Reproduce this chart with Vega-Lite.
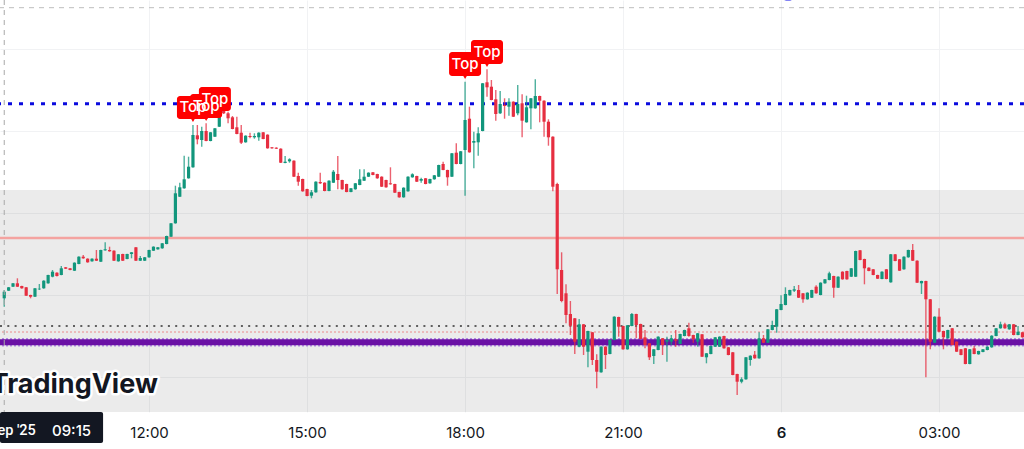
{
  "$schema": "https://vega.github.io/schema/vega-lite/v6.json",
  "width": 1024,
  "height": 412,
  "autosize": "none",
  "padding": {"left": 0, "top": 0, "right": 0, "bottom": 37},
  "background": "#ffffff",
  "config": {"view": {"stroke": null}},
  "datasets": {
    "candles": [
      {"t":"2025-09-05T09:15","o":113.7,"h":122,"l":105.3,"c":120.3},
      {"t":"2025-09-05T09:20","o":121.3,"h":125,"l":121,"c":124.7},
      {"t":"2025-09-05T09:25","o":125.3,"h":129,"l":125,"c":128.7},
      {"t":"2025-09-05T09:30","o":128.7,"h":133.7,"l":125,"c":125.3},
      {"t":"2025-09-05T09:35","o":126,"h":126.3,"l":123.3,"c":123.7},
      {"t":"2025-09-05T09:40","o":124.7,"h":125,"l":116,"c":116.3},
      {"t":"2025-09-05T09:45","o":117,"h":117.3,"l":113.7,"c":115.3},
      {"t":"2025-09-05T09:50","o":115.3,"h":124,"l":115,"c":123.7},
      {"t":"2025-09-05T09:55","o":122.7,"h":128,"l":122,"c":123.3},
      {"t":"2025-09-05T10:00","o":123.7,"h":131.7,"l":123.3,"c":131.3},
      {"t":"2025-09-05T10:05","o":128.7,"h":137.3,"l":128.3,"c":137},
      {"t":"2025-09-05T10:10","o":135.3,"h":142,"l":134.7,"c":140.3},
      {"t":"2025-09-05T10:15","o":139.3,"h":139.7,"l":135.5,"c":136},
      {"t":"2025-09-05T10:20","o":137,"h":146,"l":136.7,"c":143.7},
      {"t":"2025-09-05T10:25","o":144.7,"h":145,"l":143,"c":143.3},
      {"t":"2025-09-05T10:30","o":143.7,"h":144,"l":141.7,"c":142},
      {"t":"2025-09-05T10:35","o":141.3,"h":149.7,"l":141,"c":149.3},
      {"t":"2025-09-05T10:40","o":148,"h":155.7,"l":147.7,"c":155.3},
      {"t":"2025-09-05T10:45","o":155.3,"h":157,"l":153.3,"c":153.7},
      {"t":"2025-09-05T10:50","o":153.3,"h":153.7,"l":149.3,"c":149.7},
      {"t":"2025-09-05T10:55","o":150.7,"h":153.7,"l":150.3,"c":153.3},
      {"t":"2025-09-05T11:00","o":153.3,"h":162,"l":151,"c":151.3},
      {"t":"2025-09-05T11:05","o":150.3,"h":162.3,"l":150,"c":162},
      {"t":"2025-09-05T11:10","o":161.7,"h":169.7,"l":161.3,"c":162.7},
      {"t":"2025-09-05T11:15","o":162,"h":165.3,"l":160.3,"c":160.7},
      {"t":"2025-09-05T11:20","o":161.3,"h":161.7,"l":151,"c":151.3},
      {"t":"2025-09-05T11:25","o":150.7,"h":158,"l":150.3,"c":157.7},
      {"t":"2025-09-05T11:30","o":158,"h":158.3,"l":151,"c":151.3},
      {"t":"2025-09-05T11:35","o":153,"h":158.3,"l":152.7,"c":158},
      {"t":"2025-09-05T11:40","o":158,"h":160,"l":153.7,"c":159.7},
      {"t":"2025-09-05T11:45","o":164.7,"h":165,"l":151,"c":151.3},
      {"t":"2025-09-05T11:50","o":151.3,"h":156,"l":151,"c":154},
      {"t":"2025-09-05T11:55","o":151.3,"h":155,"l":151,"c":154.7},
      {"t":"2025-09-05T12:00","o":154.7,"h":162.3,"l":154.3,"c":162},
      {"t":"2025-09-05T12:05","o":161.3,"h":165.7,"l":161,"c":165.3},
      {"t":"2025-09-05T12:10","o":162.7,"h":165,"l":162.3,"c":164.7},
      {"t":"2025-09-05T12:15","o":163.7,"h":169,"l":163.3,"c":168.7},
      {"t":"2025-09-05T12:20","o":168,"h":176.3,"l":167.7,"c":176},
      {"t":"2025-09-05T12:25","o":175.3,"h":189,"l":175,"c":188.7},
      {"t":"2025-09-05T12:30","o":188.7,"h":226.3,"l":188.3,"c":218.7},
      {"t":"2025-09-05T12:35","o":215.3,"h":229.3,"l":215,"c":224.7},
      {"t":"2025-09-05T12:40","o":223.7,"h":256.3,"l":223.3,"c":232.7},
      {"t":"2025-09-05T12:45","o":233.7,"h":255.3,"l":233.3,"c":245.3},
      {"t":"2025-09-05T12:50","o":244.7,"h":287,"l":244.3,"c":277},
      {"t":"2025-09-05T12:55","o":276.7,"h":287,"l":267.7,"c":272.7},
      {"t":"2025-09-05T13:00","o":272,"h":285.3,"l":265.3,"c":281},
      {"t":"2025-09-05T13:05","o":281,"h":288.7,"l":270.7,"c":271},
      {"t":"2025-09-05T13:10","o":271,"h":280,"l":270.7,"c":279.7},
      {"t":"2025-09-05T13:15","o":275.3,"h":284,"l":275,"c":283.7},
      {"t":"2025-09-05T13:20","o":285.3,"h":302,"l":285,"c":300.3},
      {"t":"2025-09-05T13:25","o":302,"h":303,"l":298,"c":298.7},
      {"t":"2025-09-05T13:30","o":298.7,"h":300.3,"l":288.7,"c":293.7},
      {"t":"2025-09-05T13:35","o":294.7,"h":296,"l":282.7,"c":283},
      {"t":"2025-09-05T13:40","o":284.7,"h":295.3,"l":277.7,"c":278},
      {"t":"2025-09-05T13:45","o":279.3,"h":287,"l":268,"c":269.3},
      {"t":"2025-09-05T13:50","o":269.7,"h":276.7,"l":269.3,"c":276.3},
      {"t":"2025-09-05T13:55","o":276,"h":279.3,"l":273.7,"c":275},
      {"t":"2025-09-05T14:00","o":274.7,"h":278.7,"l":273.3,"c":276},
      {"t":"2025-09-05T14:05","o":274.7,"h":279.7,"l":271.3,"c":279.3},
      {"t":"2025-09-05T14:10","o":279.7,"h":280,"l":272.7,"c":273},
      {"t":"2025-09-05T14:15","o":277.3,"h":277.7,"l":263.3,"c":263.7},
      {"t":"2025-09-05T14:20","o":264.7,"h":265,"l":263.3,"c":263.7},
      {"t":"2025-09-05T14:25","o":264.3,"h":264.7,"l":263,"c":263.3},
      {"t":"2025-09-05T14:30","o":263.3,"h":263.7,"l":249,"c":249.3},
      {"t":"2025-09-05T14:35","o":249,"h":256,"l":248.7,"c":250.3},
      {"t":"2025-09-05T14:40","o":250.7,"h":253.7,"l":249.3,"c":252.7},
      {"t":"2025-09-05T14:45","o":251.3,"h":251.7,"l":235,"c":235.3},
      {"t":"2025-09-05T14:50","o":236,"h":239.3,"l":226.3,"c":230.3},
      {"t":"2025-09-05T14:55","o":233,"h":233.3,"l":220.3,"c":220.7},
      {"t":"2025-09-05T15:00","o":223,"h":223.3,"l":215.7,"c":216},
      {"t":"2025-09-05T15:05","o":216.3,"h":222,"l":213.7,"c":219.7},
      {"t":"2025-09-05T15:10","o":219.7,"h":230.7,"l":219.3,"c":230.3},
      {"t":"2025-09-05T15:15","o":230,"h":239.3,"l":228,"c":228.7},
      {"t":"2025-09-05T15:20","o":229.3,"h":229.7,"l":220.7,"c":221},
      {"t":"2025-09-05T15:25","o":221,"h":231.7,"l":220.7,"c":231.3},
      {"t":"2025-09-05T15:30","o":229.3,"h":242,"l":229,"c":240.3},
      {"t":"2025-09-05T15:35","o":238,"h":256,"l":222.7,"c":232},
      {"t":"2025-09-05T15:40","o":232,"h":232.3,"l":222.3,"c":222.7},
      {"t":"2025-09-05T15:45","o":228,"h":228.3,"l":219.7,"c":220},
      {"t":"2025-09-05T15:50","o":220,"h":224,"l":219.7,"c":223.7},
      {"t":"2025-09-05T15:55","o":222.7,"h":229,"l":222.3,"c":228.7},
      {"t":"2025-09-05T16:00","o":227,"h":242.7,"l":226.7,"c":232.7},
      {"t":"2025-09-05T16:05","o":231.3,"h":242.7,"l":231,"c":235.3},
      {"t":"2025-09-05T16:10","o":235.3,"h":239.7,"l":235,"c":239.3},
      {"t":"2025-09-05T16:15","o":239.7,"h":240,"l":236.7,"c":237},
      {"t":"2025-09-05T16:20","o":238,"h":238.3,"l":233.3,"c":233.7},
      {"t":"2025-09-05T16:25","o":235.3,"h":235.7,"l":225,"c":225.3},
      {"t":"2025-09-05T16:30","o":232,"h":232.3,"l":224.3,"c":224.7},
      {"t":"2025-09-05T16:35","o":228.7,"h":244.7,"l":227.3,"c":227.7},
      {"t":"2025-09-05T16:40","o":228,"h":228.3,"l":219,"c":219.3},
      {"t":"2025-09-05T16:45","o":220,"h":220.3,"l":214.3,"c":214.7},
      {"t":"2025-09-05T16:50","o":214.7,"h":224.7,"l":214.3,"c":224.3},
      {"t":"2025-09-05T16:55","o":220.7,"h":235.7,"l":220.3,"c":235.3},
      {"t":"2025-09-05T17:00","o":234.7,"h":238.7,"l":234.3,"c":237.7},
      {"t":"2025-09-05T17:05","o":236,"h":236.3,"l":230,"c":230.3},
      {"t":"2025-09-05T17:10","o":231.3,"h":234.3,"l":229.3,"c":233},
      {"t":"2025-09-05T17:15","o":233.7,"h":234,"l":227.7,"c":228},
      {"t":"2025-09-05T17:20","o":228.7,"h":233.3,"l":228.3,"c":233},
      {"t":"2025-09-05T17:25","o":232.7,"h":237,"l":232.3,"c":236.7},
      {"t":"2025-09-05T17:30","o":235.3,"h":247.3,"l":235,"c":247},
      {"t":"2025-09-05T17:35","o":248,"h":250.3,"l":241.7,"c":242},
      {"t":"2025-09-05T17:40","o":242,"h":242.3,"l":226.3,"c":234.7},
      {"t":"2025-09-05T17:45","o":235.3,"h":259,"l":235,"c":258.7},
      {"t":"2025-09-05T17:50","o":259.3,"h":268.7,"l":247.7,"c":248},
      {"t":"2025-09-05T17:55","o":248,"h":261,"l":247.7,"c":260.7},
      {"t":"2025-09-05T18:00","o":262,"h":330.3,"l":216.3,"c":292},
      {"t":"2025-09-05T18:05","o":293.3,"h":305.3,"l":259.3,"c":259.7},
      {"t":"2025-09-05T18:10","o":269.3,"h":280.3,"l":243.7,"c":271},
      {"t":"2025-09-05T18:15","o":269.7,"h":284.7,"l":256.3,"c":278.7},
      {"t":"2025-09-05T18:20","o":281,"h":329,"l":280.7,"c":328.7},
      {"t":"2025-09-05T18:25","o":329.7,"h":342.7,"l":315.3,"c":324.7},
      {"t":"2025-09-05T18:30","o":325.3,"h":332,"l":311.7,"c":312},
      {"t":"2025-09-05T18:35","o":312.7,"h":322,"l":291.3,"c":298},
      {"t":"2025-09-05T18:40","o":298.7,"h":321,"l":298,"c":308},
      {"t":"2025-09-05T18:45","o":307,"h":313.7,"l":293.3,"c":306},
      {"t":"2025-09-05T18:50","o":305.3,"h":313.7,"l":296.3,"c":310.3},
      {"t":"2025-09-05T18:55","o":310.3,"h":310.7,"l":295,"c":295.3},
      {"t":"2025-09-05T19:00","o":298.7,"h":327,"l":296.7,"c":308},
      {"t":"2025-09-05T19:05","o":308.7,"h":317.7,"l":274.7,"c":291.3},
      {"t":"2025-09-05T19:10","o":289.7,"h":316.3,"l":289.3,"c":304.7},
      {"t":"2025-09-05T19:15","o":303.7,"h":314,"l":282.7,"c":313.7},
      {"t":"2025-09-05T19:20","o":303.7,"h":332.7,"l":303.3,"c":316},
      {"t":"2025-09-05T19:25","o":316,"h":316.3,"l":289.7,"c":311.3},
      {"t":"2025-09-05T19:30","o":311.3,"h":311.7,"l":275.3,"c":290.3},
      {"t":"2025-09-05T19:35","o":290.3,"h":292.7,"l":266.3,"c":274.7},
      {"t":"2025-09-05T19:40","o":275.3,"h":275.7,"l":220.7,"c":225.3},
      {"t":"2025-09-05T19:45","o":228,"h":229.3,"l":118,"c":142.7},
      {"t":"2025-09-05T19:50","o":142,"h":159.7,"l":109.7,"c":111},
      {"t":"2025-09-05T19:55","o":118.7,"h":127.7,"l":88.7,"c":97},
      {"t":"2025-09-05T20:00","o":98,"h":111,"l":77,"c":86.3},
      {"t":"2025-09-05T20:05","o":93.7,"h":94,"l":58,"c":70.3},
      {"t":"2025-09-05T20:10","o":65.3,"h":93,"l":64.7,"c":87.7},
      {"t":"2025-09-05T20:15","o":87.7,"h":88,"l":57,"c":65.3},
      {"t":"2025-09-05T20:20","o":60.3,"h":81.3,"l":44.7,"c":81},
      {"t":"2025-09-05T20:25","o":79.7,"h":80,"l":47,"c":52},
      {"t":"2025-09-05T20:30","o":52,"h":57.7,"l":23.7,"c":40.3},
      {"t":"2025-09-05T20:35","o":39.7,"h":65.7,"l":39.3,"c":65.3},
      {"t":"2025-09-05T20:40","o":65.3,"h":65.7,"l":43,"c":57},
      {"t":"2025-09-05T20:45","o":58,"h":72.3,"l":57.7,"c":72},
      {"t":"2025-09-05T20:50","o":72,"h":95.7,"l":71.7,"c":95.3},
      {"t":"2025-09-05T20:55","o":95,"h":95.3,"l":75.3,"c":85.3},
      {"t":"2025-09-05T21:00","o":86,"h":86.3,"l":62.3,"c":62.7},
      {"t":"2025-09-05T21:05","o":62.7,"h":87,"l":62.3,"c":86.7},
      {"t":"2025-09-05T21:10","o":86,"h":99,"l":85.7,"c":98},
      {"t":"2025-09-05T21:15","o":98,"h":98.3,"l":73.7,"c":87},
      {"t":"2025-09-05T21:20","o":88,"h":88.3,"l":72.7,"c":73},
      {"t":"2025-09-05T21:25","o":74.7,"h":82,"l":63.7,"c":67},
      {"t":"2025-09-05T21:30","o":68.7,"h":69,"l":52,"c":54.7},
      {"t":"2025-09-05T21:35","o":56,"h":63,"l":48,"c":62.7},
      {"t":"2025-09-05T21:40","o":62,"h":75.7,"l":61.7,"c":75.3},
      {"t":"2025-09-05T21:45","o":73.7,"h":74,"l":57,"c":67},
      {"t":"2025-09-05T21:50","o":70.3,"h":75.3,"l":50.3,"c":72},
      {"t":"2025-09-05T21:55","o":70.3,"h":77,"l":67,"c":73.7},
      {"t":"2025-09-05T22:00","o":72.7,"h":82,"l":65.3,"c":71.3},
      {"t":"2025-09-05T22:05","o":68,"h":78.3,"l":67.7,"c":78},
      {"t":"2025-09-05T22:10","o":76,"h":82.3,"l":75.7,"c":82},
      {"t":"2025-09-05T22:15","o":83.7,"h":89.3,"l":75.3,"c":76},
      {"t":"2025-09-05T22:20","o":77,"h":77.3,"l":69.3,"c":72.7},
      {"t":"2025-09-05T22:25","o":70.3,"h":79,"l":65.3,"c":78.7},
      {"t":"2025-09-05T22:30","o":77.7,"h":78,"l":55,"c":55.3},
      {"t":"2025-09-05T22:35","o":54.7,"h":59,"l":48.7,"c":58.7},
      {"t":"2025-09-05T22:40","o":58,"h":66.3,"l":57.7,"c":66},
      {"t":"2025-09-05T22:45","o":65.3,"h":75,"l":65,"c":74.7},
      {"t":"2025-09-05T22:50","o":65.3,"h":75.7,"l":65,"c":75.3},
      {"t":"2025-09-05T22:55","o":76,"h":76.3,"l":63.3,"c":63.7},
      {"t":"2025-09-05T23:00","o":64.7,"h":65,"l":56.7,"c":57},
      {"t":"2025-09-05T23:05","o":59.7,"h":60,"l":36.7,"c":37},
      {"t":"2025-09-05T23:10","o":38,"h":38.3,"l":17,"c":30.3},
      {"t":"2025-09-05T23:15","o":30.3,"h":34.7,"l":28.7,"c":32.7},
      {"t":"2025-09-05T23:20","o":32.7,"h":55,"l":32.3,"c":54.7},
      {"t":"2025-09-05T23:25","o":52,"h":56.7,"l":46.3,"c":56.3},
      {"t":"2025-09-05T23:30","o":57.3,"h":61,"l":53.3,"c":53.7},
      {"t":"2025-09-05T23:35","o":53.7,"h":79.7,"l":53.3,"c":73.7},
      {"t":"2025-09-05T23:40","o":73.7,"h":77,"l":69,"c":69.3},
      {"t":"2025-09-05T23:45","o":69.3,"h":83,"l":69,"c":82.7},
      {"t":"2025-09-05T23:50","o":82,"h":91.3,"l":81.7,"c":87},
      {"t":"2025-09-05T23:55","o":85.3,"h":103,"l":79.3,"c":102.7},
      {"t":"2025-09-06T00:00","o":102,"h":116.7,"l":101.7,"c":108},
      {"t":"2025-09-06T00:05","o":107,"h":124.7,"l":106.7,"c":118},
      {"t":"2025-09-06T00:10","o":116.7,"h":122.3,"l":116.3,"c":122},
      {"t":"2025-09-06T00:15","o":121.3,"h":126,"l":120,"c":122.7},
      {"t":"2025-09-06T00:20","o":122,"h":127,"l":114,"c":114.3},
      {"t":"2025-09-06T00:25","o":118.7,"h":119,"l":109.3,"c":112.7},
      {"t":"2025-09-06T00:30","o":112.7,"h":119.7,"l":112.3,"c":119.3},
      {"t":"2025-09-06T00:35","o":114.3,"h":122.3,"l":114,"c":122},
      {"t":"2025-09-06T00:40","o":125.3,"h":126.7,"l":118.3,"c":118.7},
      {"t":"2025-09-06T00:45","o":117,"h":129.7,"l":116.7,"c":129.3},
      {"t":"2025-09-06T00:50","o":128.7,"h":133,"l":128.3,"c":132.7},
      {"t":"2025-09-06T00:55","o":132,"h":140.3,"l":131.7,"c":138.7},
      {"t":"2025-09-06T01:00","o":136,"h":136.3,"l":114.3,"c":124.3},
      {"t":"2025-09-06T01:05","o":124.3,"h":135.7,"l":124,"c":135.3},
      {"t":"2025-09-06T01:10","o":140.3,"h":140.7,"l":132.3,"c":132.7},
      {"t":"2025-09-06T01:15","o":141,"h":141.3,"l":132.3,"c":132.7},
      {"t":"2025-09-06T01:20","o":135.3,"h":144,"l":135,"c":143.7},
      {"t":"2025-09-06T01:25","o":135.3,"h":161.3,"l":135,"c":161},
      {"t":"2025-09-06T01:30","o":161.7,"h":162,"l":151.7,"c":152},
      {"t":"2025-09-06T01:35","o":153,"h":153.3,"l":127.7,"c":143.7},
      {"t":"2025-09-06T01:40","o":144.3,"h":144.7,"l":140.7,"c":141},
      {"t":"2025-09-06T01:45","o":142.7,"h":143,"l":136.7,"c":137},
      {"t":"2025-09-06T01:50","o":137,"h":137.3,"l":133,"c":133.3},
      {"t":"2025-09-06T01:55","o":133,"h":140.7,"l":132.7,"c":140.3},
      {"t":"2025-09-06T02:00","o":142.7,"h":143,"l":132.7,"c":133},
      {"t":"2025-09-06T02:05","o":129.7,"h":158,"l":129.3,"c":157.7},
      {"t":"2025-09-06T02:10","o":157.7,"h":158,"l":150.7,"c":151},
      {"t":"2025-09-06T02:15","o":152.7,"h":153,"l":141,"c":141.3},
      {"t":"2025-09-06T02:20","o":142.7,"h":155.7,"l":142.3,"c":155.3},
      {"t":"2025-09-06T02:25","o":154.7,"h":162.3,"l":154.3,"c":162},
      {"t":"2025-09-06T02:30","o":162,"h":168,"l":151,"c":151.3},
      {"t":"2025-09-06T02:35","o":151.3,"h":151.7,"l":129,"c":129.3},
      {"t":"2025-09-06T02:40","o":128.7,"h":131.3,"l":118,"c":131},
      {"t":"2025-09-06T02:45","o":131,"h":131.3,"l":34.7,"c":112.7},
      {"t":"2025-09-06T02:50","o":112.7,"h":113,"l":62.7,"c":70.3},
      {"t":"2025-09-06T02:55","o":69.3,"h":95.7,"l":69,"c":95.3},
      {"t":"2025-09-06T03:00","o":95.3,"h":103.7,"l":80,"c":80.3},
      {"t":"2025-09-06T03:05","o":81,"h":81.3,"l":62.7,"c":74.7},
      {"t":"2025-09-06T03:10","o":73.7,"h":82.3,"l":73.3,"c":82},
      {"t":"2025-09-06T03:15","o":83.7,"h":84,"l":66.7,"c":67},
      {"t":"2025-09-06T03:20","o":70.3,"h":70.7,"l":60,"c":60.3},
      {"t":"2025-09-06T03:25","o":62.7,"h":63,"l":56.7,"c":57},
      {"t":"2025-09-06T03:30","o":63.7,"h":64,"l":47.7,"c":48},
      {"t":"2025-09-06T03:35","o":48,"h":63,"l":47.7,"c":62.7},
      {"t":"2025-09-06T03:40","o":63.7,"h":66,"l":57.7,"c":58},
      {"t":"2025-09-06T03:45","o":57.7,"h":61.3,"l":57.3,"c":61},
      {"t":"2025-09-06T03:50","o":60,"h":63,"l":59.7,"c":62.7},
      {"t":"2025-09-06T03:55","o":62,"h":65.7,"l":61.7,"c":65.3},
      {"t":"2025-09-06T04:00","o":64.7,"h":76.7,"l":64.3,"c":76.3},
      {"t":"2025-09-06T04:05","o":76,"h":84,"l":75.7,"c":83.7},
      {"t":"2025-09-06T04:10","o":83.7,"h":90.3,"l":83.3,"c":87.7},
      {"t":"2025-09-06T04:15","o":87.7,"h":89.3,"l":83.3,"c":83.7},
      {"t":"2025-09-06T04:20","o":82.7,"h":88,"l":82.3,"c":87.7},
      {"t":"2025-09-06T04:25","o":87.7,"h":88,"l":76.7,"c":77},
      {"t":"2025-09-06T04:30","o":77,"h":86,"l":76.7,"c":80.3},
      {"t":"2025-09-06T04:35","o":79.7,"h":80,"l":74.3,"c":74.7}
    ],
    "tops": [
      {"t":"2025-09-05T12:50","low":293,"high":316,"label":"Top"},
      {"t":"2025-09-05T13:05","low":294,"high":318,"label":"Top"},
      {"t":"2025-09-05T13:15","low":301,"high":325,"label":"Top"},
      {"t":"2025-09-05T18:00","low":336,"high":360,"label":"Top"},
      {"t":"2025-09-05T18:25","low":348,"high":372,"label":"Top"}
    ]
  },
  "layer": [
    {
      "data": {"values": [{"from": 0, "to": 222}]},
      "mark": {"type": "rect", "fill": "#000000", "fillOpacity": 0.08},
      "encoding": {
        "y": {
          "field": "from",
          "type": "quantitative",
          "title": null,
          "scale": {"domain": [0, 412], "nice": false, "zero": false},
          "axis": {
            "values": [35, 117, 199, 281, 363],
            "title": null,
            "labels": false,
            "ticks": false,
            "domain": false,
            "grid": true,
            "gridColor": "#f1f2f4",
            "gridWidth": 1
          }
        },
        "y2": {"field": "to"}
      }
    },
    {
      "data": {"values": [{"p": 174}]},
      "mark": {"type": "rule", "stroke": "#f4a3a0", "strokeWidth": 2.5},
      "encoding": {"y": {"field": "p", "type": "quantitative", "title": null}}
    },
    {
      "data": {"values": [{"p": 308.3}]},
      "mark": {"type": "rule", "stroke": "#0a0ade", "strokeWidth": 3, "strokeDash": [4, 7]},
      "encoding": {"y": {"field": "p", "type": "quantitative", "title": null}}
    },
    {
      "data": {"values": [{"p": 404.3}]},
      "mark": {"type": "rule", "stroke": "#bdbdbd", "strokeWidth": 1, "strokeDash": [5, 5]},
      "encoding": {"y": {"field": "p", "type": "quantitative", "title": null}}
    },
    {
      "data": {"values": [{"p": 86}]},
      "mark": {"type": "rule", "stroke": "#5f5f5f", "strokeWidth": 2, "strokeDash": [2, 5.3]},
      "encoding": {"y": {"field": "p", "type": "quantitative", "title": null}}
    },
    {
      "data": {"values": [{"p": 80}]},
      "mark": {"type": "rule", "stroke": "#ea8a8a", "strokeWidth": 1, "strokeDash": [2, 2]},
      "encoding": {"y": {"field": "p", "type": "quantitative", "title": null}}
    },
    {
      "data": {"values": [{"p": 69.7}]},
      "mark": {"type": "rule", "stroke": "#b08be0", "strokeWidth": 8.5, "strokeDash": [2, 2]},
      "encoding": {"y": {"field": "p", "type": "quantitative", "title": null}}
    },
    {
      "data": {"values": [{"p": 69.7}]},
      "mark": {"type": "rule", "stroke": "#6a10a5", "strokeWidth": 6},
      "encoding": {"y": {"field": "p", "type": "quantitative", "title": null}}
    },
    {
      "data": {"name": "candles"},
      "mark": {"type": "rule", "strokeWidth": 1.4, "strokeOpacity": 0.75},
      "encoding": {
        "x": {
          "field": "t",
          "type": "temporal",
          "title": null,
          "scale": {
            "nice": false,
            "padding": 0,
            "domain": [
              {"year": 2025, "month": 9, "date": 5, "hours": 9, "minutes": 10, "seconds": 10},
              {"year": 2025, "month": 9, "date": 6, "hours": 4, "minutes": 36, "seconds": 47}
            ]
          },
          "axis": {
            "title": null,
            "values": [
              {"year": 2025, "month": 9, "date": 5, "hours": 12},
              {"year": 2025, "month": 9, "date": 5, "hours": 15},
              {"year": 2025, "month": 9, "date": 5, "hours": 18},
              {"year": 2025, "month": 9, "date": 5, "hours": 21},
              {"year": 2025, "month": 9, "date": 6, "hours": 0},
              {"year": 2025, "month": 9, "date": 6, "hours": 3}
            ],
            "labelExpr": "hours(datum.value) == 0 ? '6' : timeFormat(datum.value, '%H:%M')",
            "labelFontWeight": {"condition": {"test": "hours(datum.value) == 0", "value": 600}, "value": 400},
            "labelFont": "Inter",
            "labelFontSize": 15,
            "labelColor": "#131722",
            "labelPadding": 13,
            "labelOverlap": false,
            "labelFlush": false,
            "ticks": false,
            "domain": false,
            "grid": true,
            "gridColor": "#f1f2f4",
            "gridWidth": 1
          }
        },
        "y": {"field": "l", "type": "quantitative", "title": null},
        "y2": {"field": "h"},
        "stroke": {"condition": {"test": "datum.c >= datum.o", "value": "#12967c"}, "value": "#e62e40"}
      }
    },
    {
      "data": {"name": "candles"},
      "mark": {"type": "rule", "strokeWidth": 3.2},
      "encoding": {
        "x": {"field": "t", "type": "temporal", "title": null},
        "y": {"field": "o", "type": "quantitative", "title": null},
        "y2": {"field": "c"},
        "stroke": {"condition": {"test": "datum.c >= datum.o", "value": "#12967c"}, "value": "#e62e40"}
      }
    },
    {
      "data": {"values": [{"t": "2025-09-05T09:15"}]},
      "mark": {"type": "rule", "stroke": "#a8a8a8", "strokeWidth": 1, "strokeDash": [5, 5]},
      "encoding": {"x": {"field": "t", "type": "temporal", "title": null}}
    },
    {
      "data": {"name": "tops"},
      "mark": {"type": "bar", "size": 32, "cornerRadius": 3, "fill": "#ff0000"},
      "encoding": {
        "x": {"field": "t", "type": "temporal", "title": null},
        "y": {"field": "low", "type": "quantitative", "title": null},
        "y2": {"field": "high"}
      }
    },
    {
      "data": {"name": "tops"},
      "mark": {"type": "point", "shape": "triangle-down", "filled": true, "size": 22, "fill": "#ff0000", "opacity": 1, "yOffset": 1},
      "encoding": {
        "x": {"field": "t", "type": "temporal", "title": null},
        "y": {"field": "low", "type": "quantitative", "title": null}
      }
    },
    {
      "data": {"name": "tops"},
      "mark": {"type": "text", "font": "Inter", "fontSize": 15, "fontWeight": 500, "fill": "#ffffff", "baseline": "middle", "dy": -12},
      "encoding": {
        "x": {"field": "t", "type": "temporal", "title": null},
        "y": {"field": "low", "type": "quantitative", "title": null},
        "text": {"field": "label"}
      }
    },
    {
      "data": {"values": [{"t": "2025-09-05T12:10", "p": 19, "label": "TradingView"}]},
      "mark": {"type": "text", "font": "Inter", "fontSize": 27, "fontWeight": 700, "align": "right", "baseline": "alphabetic", "fill": "#ffffff", "stroke": "#ffffff", "strokeWidth": 5, "strokeJoin": "round"},
      "encoding": {
        "x": {"field": "t", "type": "temporal", "title": null},
        "y": {"field": "p", "type": "quantitative", "title": null},
        "text": {"field": "label"}
      }
    },
    {
      "data": {"values": [{"t": "2025-09-05T12:10", "p": 19, "label": "TradingView"}]},
      "mark": {"type": "text", "font": "Inter", "fontSize": 27, "fontWeight": 700, "align": "right", "baseline": "alphabetic", "fill": "#131722"},
      "encoding": {
        "x": {"field": "t", "type": "temporal", "title": null},
        "y": {"field": "p", "type": "quantitative", "title": null},
        "text": {"field": "label"}
      }
    },
    {
      "data": {"values": [{"t0": "2025-09-05T09:10:10", "t1": "2025-09-05T11:07:36", "from": 0, "to": -31}]},
      "mark": {"type": "rect", "fill": "#131722", "cornerRadius": 2},
      "encoding": {
        "x": {"field": "t0", "type": "temporal", "title": null},
        "x2": {"field": "t1"},
        "y": {"field": "from", "type": "quantitative", "title": null},
        "y2": {"field": "to"}
      }
    },
    {
      "data": {"values": [{"t": "2025-09-05T09:51", "p": -19, "label": "ep '25"}]},
      "mark": {"type": "text", "font": "Roboto", "fontSize": 14.5, "fontWeight": 500, "align": "right", "baseline": "middle", "fill": "#ffffff"},
      "encoding": {
        "x": {"field": "t", "type": "temporal", "title": null},
        "y": {"field": "p", "type": "quantitative", "title": null},
        "text": {"field": "label"}
      }
    },
    {
      "data": {"values": [{"t": "2025-09-05T10:54", "p": -19, "label": "09:15"}]},
      "mark": {"type": "text", "font": "Inter", "fontSize": 15, "fontWeight": 500, "align": "right", "baseline": "middle", "fill": "#ffffff"},
      "encoding": {
        "x": {"field": "t", "type": "temporal", "title": null},
        "y": {"field": "p", "type": "quantitative", "title": null},
        "text": {"field": "label"}
      }
    },
    {
      "data": {"values": [{"t": "2025-09-06T00:08", "p": 420}]},
      "mark": {"type": "point", "shape": "circle", "filled": true, "size": 314, "fill": "#5a5af0", "opacity": 1},
      "encoding": {
        "x": {"field": "t", "type": "temporal", "title": null},
        "y": {"field": "p", "type": "quantitative", "title": null}
      }
    }
  ]
}
